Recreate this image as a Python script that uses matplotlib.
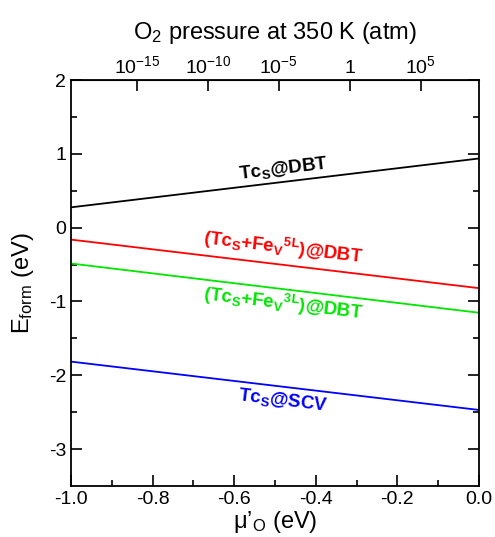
import numpy as np
from matplotlib import pyplot as plt

plt.rcParams['font.family'] = ['Liberation Sans', 'DejaVu Sans']
plt.rcParams['mathtext.fontset'] = 'custom'
plt.rcParams['mathtext.rm'] = 'Liberation Sans'
plt.rcParams['mathtext.it'] = 'Liberation Sans:italic'
plt.rcParams['mathtext.bf'] = 'Liberation Sans:bold'

# chemical potential range (eV) and formation energies at both ends
mu_ends = [-1.0, 0.0]
e_tc_dbt = [0.275, 0.937]
e_fe5l = [-0.162, -0.820]
e_fe3l = [-0.486, -1.153]
e_tc_scv = [-1.815, -2.470]

# O2 pressure ticks (log10 atm) for the top axis
p_exponents = [-15, -10, -5, 0, 5]
p_labels = [r'$10^{-15}$', r'$10^{-10}$', r'$10^{-5}$', '1', r'$10^{5}$']

# mu_O = mu0 + 1/2 kT ln(p) at 350 K
kT = 8.617e-5 * 350
mu0 = -0.317

def mu_to_logp(mu):
    return (mu - mu0) / (0.5 * kT * np.log(10))

def logp_to_mu(lp):
    return mu0 + 0.5 * kT * np.log(10) * lp

fig = plt.figure(figsize=(4.95, 5.37), dpi=100)
ax = fig.add_axes([0.1434, 0.095, 0.8243, 0.756])

green = '#00e600'
ax.plot(mu_ends, e_tc_dbt, color='black', lw=1.3)
ax.plot(mu_ends, e_fe5l, color='#ff0000', lw=1.3)
ax.plot(mu_ends, e_fe3l, color=green, lw=1.3)
ax.plot(mu_ends, e_tc_scv, color='#0000ff', lw=1.3)

ax.set_xlim(-1.0, 0.0)
ax.set_ylim(-3.5, 2.0)
ax.set_xticks(np.arange(-1.0, 0.01, 0.2))
ax.set_xticks(np.arange(-0.9, 0.0, 0.2), minor=True)
ax.set_xticklabels(['-1.0', '-0.8', '-0.6', '-0.4', '-0.2', '0.0'])
ax.set_yticks([-3, -2, -1, 0, 1, 2])
ax.set_yticks([-2.5, -1.5, -0.5, 0.5, 1.5], minor=True)
ax.set_yticklabels(['-3', '-2', '-1', '0', '1', '2'])
ax.tick_params(which='both', direction='in', top=False, right=True,
               labelsize=14, width=1.2)
ax.tick_params(which='major', length=8)
ax.tick_params(which='minor', length=4.5)
for s in ax.spines.values():
    s.set_linewidth(1.3)

ax.set_xlabel('μ’$_\\mathrm{O}$ (eV)', fontsize=17, labelpad=1)
ax.set_ylabel('E$_\\mathrm{form}$ (eV)', fontsize=17, labelpad=9)

top = ax.secondary_xaxis('top', functions=(mu_to_logp, logp_to_mu))
top.set_xticks(p_exponents)
top.set_xticklabels(p_labels)
top.tick_params(direction='in', length=8, width=1.2, labelsize=14, pad=2)
top.set_xlabel('O$_2$ pressure at 350 K (atm)', fontsize=17, labelpad=12)

# species labels laid along their lines
ang = np.degrees(np.arctan2(0.66 * 74, 408))
ax.text(-0.48, 0.80, r'$\mathbf{Tc_{S}@DBT}$', color='black', fontsize=13.5,
        ha='center', va='center', rotation=ang)
ax.text(-0.48, -0.27, r'$\mathbf{(Tc_{S}{+}Fe_{V}{}^{5L})@DBT}$', color='#ff0000',
        fontsize=13.5, ha='center', va='center', rotation=-ang)
ax.text(-0.48, -1.03, r'$\mathbf{(Tc_{S}{+}Fe_{V}{}^{3L})@DBT}$', color=green,
        fontsize=13.5, ha='center', va='center', rotation=-ang)
ax.text(-0.48, -2.34, r'$\mathbf{Tc_{S}@SCV}$', color='#0000ff', fontsize=13.5,
        ha='center', va='center', rotation=-ang)

fig.savefig('out.png', dpi=100)
